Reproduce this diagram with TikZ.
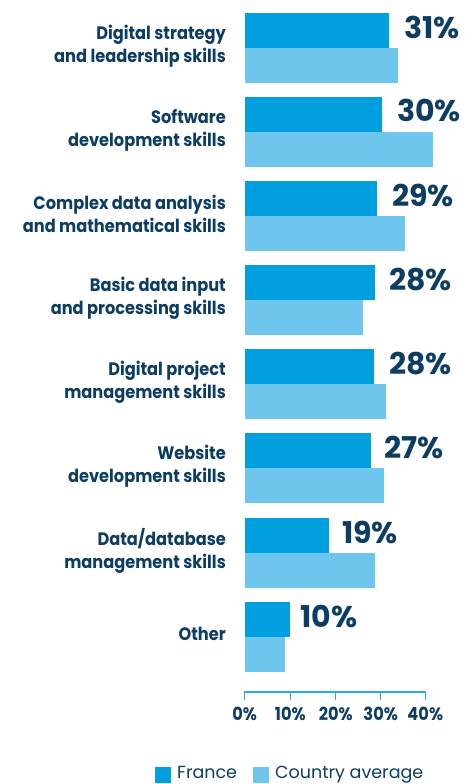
\documentclass[tikz,border=0pt]{standalone}
\usepackage{fontspec}
\setmainfont{Poppins}
\newfontfamily\narrowfont{Poppins}[FakeStretch=0.9]
\usepackage{tikz}
\definecolor{francecol}{HTML}{00A0E0}
\definecolor{avgcol}{HTML}{6EC6EE}
\definecolor{navy}{HTML}{0E3D63}
\definecolor{axiscol}{HTML}{2AACE2}

\tikzset{
	skill/.style={anchor=east, align=right, text=navy, font=\narrowfont\fontsize{18}{23}\selectfont\bfseries, inner sep=0pt},
	value/.style={anchor=base west, text=navy, font=\fontsize{30}{32}\selectfont\bfseries, inner sep=0pt},
	ticklabel/.style={anchor=base, text=navy, font=\narrowfont\fontsize{18}{20}\selectfont\bfseries, inner sep=0pt},
	legendtext/.style={anchor=base west, text=navy, font=\fontsize{17.5}{20}\selectfont, inner sep=0pt}
}

\begin{document}
\begin{tikzpicture}[x=1pt,y=-1pt]
		\useasboundingbox (0,0) rectangle (465,784);
		\def\barstart{244.5}
		
		% Draw the France bars
		\fill[francecol] (\barstart,13) rectangle (389,48);
		\fill[francecol] (\barstart,97) rectangle (382,132);
		\fill[francecol] (\barstart,181) rectangle (377,216);
		\fill[francecol] (\barstart,265) rectangle (375,300);
		\fill[francecol] (\barstart,349) rectangle (374,384);
		\fill[francecol] (\barstart,433) rectangle (371,468);
		\fill[francecol] (\barstart,518) rectangle (329,553);
		\fill[francecol] (\barstart,602) rectangle (290,637);
		
		% Draw the country average bars
		\fill[avgcol] (\barstart,48) rectangle (398,83);
		\fill[avgcol] (\barstart,132) rectangle (433,167);
		\fill[avgcol] (\barstart,216) rectangle (405,251);
		\fill[avgcol] (\barstart,300) rectangle (363,335);
		\fill[avgcol] (\barstart,384) rectangle (386,419);
		\fill[avgcol] (\barstart,468) rectangle (384,503);
		\fill[avgcol] (\barstart,553) rectangle (375,588);
		\fill[avgcol] (\barstart,637) rectangle (285,672);
		
		% Label the values
		\node[value] (valA) at (404,38) {31\%};
		\node[value] (valB) at (397,121) {30\%};
		\node[value] (valC) at (392,206) {29\%};
		\node[value] (valD) at (389,290) {28\%};
		\node[value] (valE) at (389,374) {28\%};
		\node[value] (valF) at (384,458) {27\%};
		\node[value] (valG) at (342,543) {19\%};
		\node[value] (valH) at (300,627) {10\%};
		
		% Label the skills
		\node[skill] (skillA) at (226,46) {Digital strategy\\and leadership skills};
		\node[skill] (skillB) at (226,130) {Software\\development skills};
		\node[skill] (skillC) at (226,214) {Complex data analysis\\and mathematical skills};
		\node[skill] (skillD) at (226,298) {Basic data input\\and processing skills};
		\node[skill] (skillE) at (226,382) {Digital project\\management skills};
		\node[skill] (skillF) at (226,466) {Website\\development skills};
		\node[skill] (skillG) at (226,551) {Data/database\\management skills};
		\node[skill] (skillH) at (226,634) {Other};
		
		% Draw the axis
		\draw[axiscol, line width=1.3pt] (244.7,700) -- (244.7,692) -- (425.3,692) -- (425.3,700);
		\draw[axiscol, line width=1.3pt] (290.3,692) -- (290.3,700);
		\draw[axiscol, line width=1.3pt] (335.7,692) -- (335.7,700);
		\draw[axiscol, line width=1.3pt] (380.7,692) -- (380.7,700);
		\node[ticklabel] (tick0) at (244.7,720) {0\%};
		\node[ticklabel] (tick1) at (290.3,720) {10\%};
		\node[ticklabel] (tick2) at (335.7,720) {20\%};
		\node[ticklabel] (tick3) at (380.7,720) {30\%};
		\node[ticklabel] (tick4) at (425.3,720) {40\%};
		
		% Legend
		\fill[francecol] (155,767) rectangle (171,783);
		\node[legendtext] (legFrance) at (177,778.5) {France};
		\fill[avgcol] (253,767) rectangle (269,783);
		\node[legendtext] (legAvg) at (275,778.5) {Country average};
	\end{tikzpicture}
\end{document}
